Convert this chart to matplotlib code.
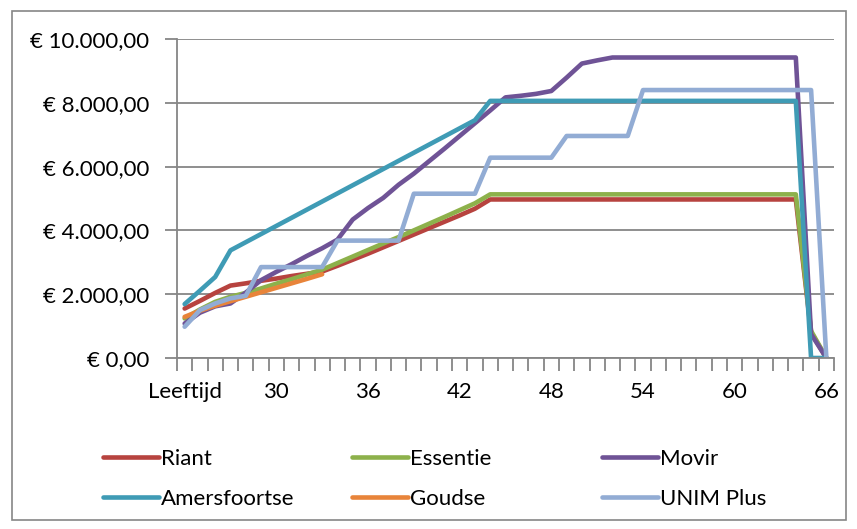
import matplotlib.pyplot as plt
import numpy as np
from matplotlib.patches import Rectangle
from matplotlib.ticker import FuncFormatter, FixedLocator

plt.rcParams['font.family'] = ['Lato', 'DejaVu Sans']

# leeftijden 24..66, eerste categorie heet "Leeftijd"
leeftijd = ['Leeftijd'] + [str(a) for a in range(25, 67)]

riant = [1550, 1790, 2040, 2270, 2340, 2420, 2490, 2570, 2640, 2710,
         2890, 3080, 3270, 3470, 3670, 3870, 4070, 4270, 4470, 4680,
         4970, 4970, 4970, 4970, 4970, 4970, 4970, 4970, 4970, 4970,
         4970, 4970, 4970, 4970, 4970, 4970, 4970, 4970, 4970, 4970,
         4970, 800, 0]
essentie = [1240, 1520, 1760, 1920, 2040, 2180, 2330, 2470, 2620, 2770,
            2975, 3180, 3385, 3590, 3790, 4000, 4210, 4420, 4635, 4850,
            5130, 5130, 5130, 5130, 5130, 5130, 5130, 5130, 5130, 5130,
            5130, 5130, 5130, 5130, 5130, 5130, 5130, 5130, 5130, 5130,
            5130, 850, 0]
movir = [1080, 1420, 1620, 1710, 2050, 2440, 2700, 2940, 3200, 3440,
         3710, 4340, 4700, 5020, 5430, 5780, 6170, 6560, 6960, 7360,
         7760, 8170, 8220, 8280, 8370, 8790, 9230, 9330, 9420, 9420,
         9420, 9420, 9420, 9420, 9420, 9420, 9420, 9420, 9420, 9420,
         9420, 750, 0]
amersfoortse = [1690, 2110, 2540, 3375, 3630, 3885, 4140, 4395, 4650, 4905,
                5160, 5415, 5670, 5925, 6180, 6435, 6690, 6945, 7200, 7455,
                8060, 8060, 8060, 8060, 8060, 8060, 8060, 8060, 8060, 8060,
                8060, 8060, 8060, 8060, 8060, 8060, 8060, 8060, 8060, 8060,
                8060, 0, 0]
goudse = [1290, 1480, 1640, 1780, 1920, 2060, 2200, 2340, 2480, 2625]
unim_plus = [980, 1500, 1710, 1870, 1950, 2850, 2850, 2850, 2850, 2850,
             3680, 3680, 3680, 3680, 3680, 5150, 5150, 5150, 5150, 5150,
             6280, 6280, 6280, 6280, 6280, 6960, 6960, 6960, 6960, 6960,
             8400, 8400, 8400, 8400, 8400, 8400, 8400, 8400, 8400, 8400,
             8400, 8400, 0]

series = [('Riant', riant, '#B7433F'),
          ('Essentie', essentie, '#8DB14B'),
          ('Movir', movir, '#6F5396'),
          ('Amersfoortse', amersfoortse, '#3F9BB5'),
          ('Goudse', goudse, '#E8843A'),
          ('UNIM Plus', unim_plus, '#92ACD4')]

fs = 16

fig = plt.figure(figsize=(8.57, 5.29), dpi=100)
ax = fig.add_axes([177/857, 1-358/529, (834-177)/857, (358-39)/529])

x = np.arange(len(leeftijd))
lines = {}
for naam, waarden, kleur in series:
    ln, = ax.plot(x[:len(waarden)], waarden, color=kleur, lw=3.3,
                  solid_joinstyle='round', solid_capstyle='round', label=naam)
    lines[naam] = ln

grijs = '#868686'
ax.set_xlim(-0.5, len(leeftijd) - 0.5)
ax.set_ylim(0, 10000)
ax.set_yticks(np.arange(0, 10001, 2000))
ax.yaxis.set_major_formatter(FuncFormatter(
    lambda v, p: '€ ' + f'{v:,.2f}'.replace(',', 'X').replace('.', ',').replace('X', '.')))
ax.set_xticks(x[::6])
ax.set_xticklabels(leeftijd[::6])
ax.xaxis.set_minor_locator(FixedLocator(np.arange(-0.5, len(leeftijd), 1)))
ax.tick_params(axis='x', which='major', length=0, pad=17, labelsize=fs)
ax.tick_params(axis='x', which='minor', length=9, width=1.3, color=grijs)
ax.tick_params(axis='y', length=9, width=1.3, color=grijs, pad=11, labelsize=fs)
ax.grid(axis='y', color=grijs, lw=1.3)
ax.set_axisbelow(True)
for s in ['top', 'right']:
    ax.spines[s].set_visible(False)
for s in ['left', 'bottom']:
    ax.spines[s].set_color(grijs)
    ax.spines[s].set_linewidth(1.3)

# legenda in drie kolommen zoals Excel
kolommen = [['Riant', 'Amersfoortse'], ['Essentie', 'Goudse'], ['Movir', 'UNIM Plus']]
links = [92, 341, 591]
for kol, xl in zip(kolommen, links):
    fig.legend(handles=[lines[n] for n in kol], loc='upper left',
               bbox_to_anchor=(xl/857, 1-438/529), frameon=False, fontsize=fs,
               handlelength=2.5, handletextpad=0.12, labelspacing=0.9, borderpad=0)

fig.patches.append(Rectangle((12/857, 1-520/529), (846-12)/857, (520-11)/529,
                             transform=fig.transFigure, fill=False,
                             edgecolor=grijs, lw=1.2))

fig.savefig('out.png', dpi=100)
